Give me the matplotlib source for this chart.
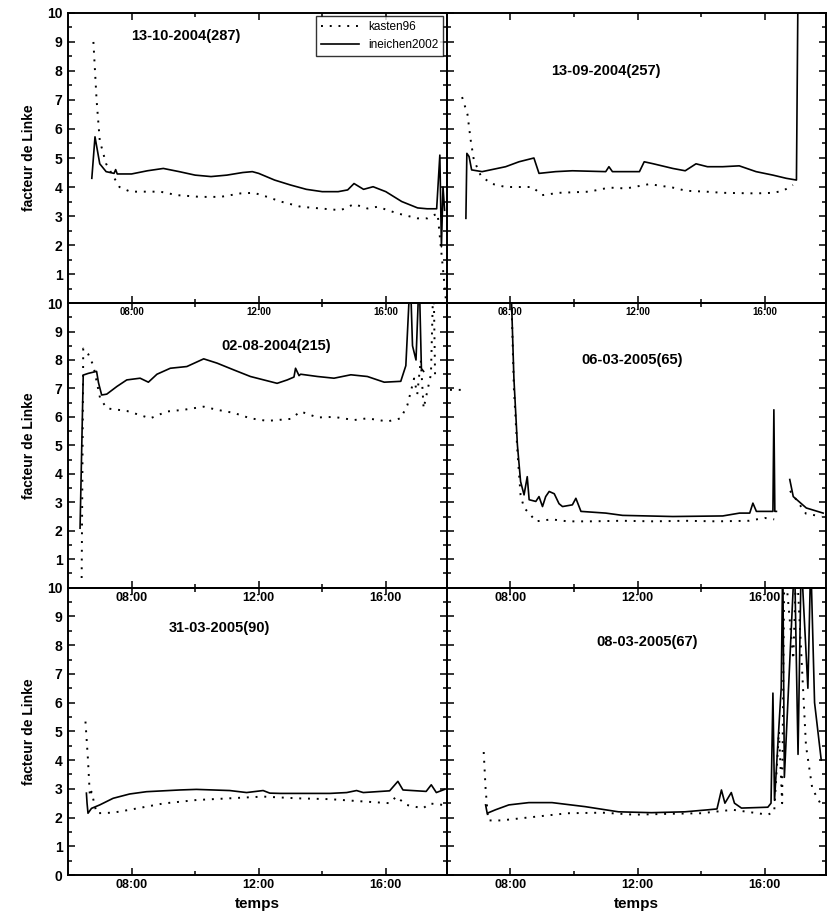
import numpy as np
import matplotlib
matplotlib.use("Agg")
from matplotlib import pyplot as plt
from matplotlib.ticker import MultipleLocator, FixedLocator

nan = float("nan")

# heures (décimales) et facteur de Linke lus sur chaque panneau
titres = ["13-10-2004(287)", "13-09-2004(257)", "02-08-2004(215)",
          "06-03-2005(65)", "31-03-2005(90)", "08-03-2005(67)"]

# 13-10-2004
ine_t1 = [6.75, 6.85, 7.0, 7.2, 7.45, 7.5, 7.55, 8.0, 8.5, 9.0, 9.5, 10.0, 10.5, 11.0, 11.5, 11.8,
          12.0, 12.5, 13.0, 13.5, 14.0, 14.5, 14.8, 15.0, 15.3, 15.6, 16.0, 16.5, 17.0, 17.3, 17.6,
          17.7, 17.75, 17.8, 17.85]
ine_v1 = [4.3, 5.73, 4.8, 4.53, 4.47, 4.6, 4.45, 4.45, 4.56, 4.64, 4.53, 4.41, 4.36, 4.41, 4.5, 4.53,
          4.47, 4.24, 4.07, 3.92, 3.84, 3.84, 3.9, 4.12, 3.92, 4.01, 3.84, 3.5, 3.28, 3.25, 3.25,
          5.1, 1.94, 4.0, 3.2]
kas_t1 = [6.8, 6.9, 7.0, 7.2, 7.62, 7.96, 8.9, 9.43, 10.16, 10.8, 11.43, 11.85, 12.27, 12.69, 13.32,
          13.95, 14.58, 15.0, 15.42, 15.74, 16.37, 17.0, 17.31, 17.63, 17.84, 17.9]
kas_v1 = [9.0, 7.0, 5.6, 4.8, 4.0, 3.84, 3.84, 3.72, 3.66, 3.66, 3.78, 3.8, 3.66, 3.5, 3.32,
          3.26, 3.2, 3.41, 3.26, 3.32, 3.09, 2.92, 2.92, 3.09, 0.7, 0.0]

# 13-09-2004
ine_t2 = [6.6, 6.63, 6.7, 6.78, 7.11, 7.85, 8.27, 8.74, 8.9, 9.42, 9.95, 11.0, 11.1, 11.21, 11.31,
          12.06, 12.21, 12.5, 13.11, 13.5, 13.84, 14.2, 14.68, 15.2, 15.73, 16.26, 16.68, 17.0, 17.05, 17.07]
ine_v2 = [2.92, 5.16, 5.05, 4.59, 4.53, 4.7, 4.87, 5.0, 4.47, 4.53, 4.56, 4.53, 4.7, 4.53, 4.53,
          4.53, 4.87, 4.8, 4.64, 4.56, 4.8, 4.7, 4.7, 4.73, 4.53, 4.41, 4.3, 4.24, 11, 11]
kas_t2 = [6.48, 6.65, 6.75, 6.85, 7.06, 7.38, 7.85, 8.69, 9.0, 9.53, 10.48, 11.11, 11.64, 12.37,
          13.11, 13.53, 14.16, 14.68, 15.73, 16.26, 16.58, 16.89]
kas_v2 = [7.1, 6.5, 5.62, 4.93, 4.41, 4.12, 4.0, 4.0, 3.72, 3.8, 3.84, 3.98, 3.95, 4.1,
          3.98, 3.87, 3.84, 3.8, 3.78, 3.8, 3.87, 4.07]

# 02-08-2004
ine_t3 = [6.38, 6.48, 6.64, 6.9, 6.96, 7.06, 7.22, 7.54, 7.85, 8.27, 8.53, 8.8, 9.22, 9.74, 10.27,
          10.69, 11.22, 11.74, 12.16, 12.58, 12.9, 13.11, 13.16, 13.27, 13.32, 13.85, 14.37, 14.9,
          15.42, 15.95, 16.47, 16.63, 16.77, 16.84, 16.95, 17.05, 17.12, 17.19]
ine_v3 = [2.09, 7.47, 7.53, 7.6, 7.2, 6.77, 6.8, 7.07, 7.3, 7.36, 7.22, 7.5, 7.71, 7.77, 8.04,
          7.89, 7.65, 7.42, 7.3, 7.18, 7.3, 7.4, 7.71, 7.45, 7.5, 7.42, 7.36, 7.48,
          7.42, 7.22, 7.25, 7.8, 11, 8.5, 8.0, 11, 7.7, 7.6]
kas_t3 = [6.43, 6.46, 6.48, 6.64, 6.8, 7.01, 7.22, 7.85, 8.59, 9.11, 9.64, 10.27, 10.69, 11.22,
          11.74, 12.27, 13.0, 13.32, 13.85, 14.37, 15.0, 15.42, 16.05, 16.47, 16.68, 16.89, 16.99,
          17.1, 17.19, 17.42, 17.5, 17.55]
kas_v3 = [0.34, 5.0, 8.4, 8.2, 7.8, 6.66, 6.3, 6.21, 5.95, 6.19, 6.25, 6.36, 6.25, 6.14,
          5.95, 5.86, 5.93, 6.19, 5.98, 6.0, 5.89, 5.95, 5.84, 5.95, 6.42, 7.35, 6.8,
          8.0, 6.3, 7.5, 11, 7.47]

# 06-03-2005
ine_t4 = [8.01, 8.11, 8.22, 8.32, 8.43, 8.53, 8.59, 8.8, 8.9, 9.01, 9.11, 9.22, 9.38, 9.53, 9.64,
          9.95, 10.06, 10.22, 11.0, 11.53, 13.11, 14.68, 15.21, 15.53, 15.63, 15.74, 16.26, 16.29,
          16.32, 16.37, nan, 16.79, 16.9, 17.31, 17.84]
ine_v4 = [11, 7.36, 5.02, 3.73, 3.26, 3.9, 3.09, 3.03, 3.2, 2.85, 3.2, 3.38, 3.3, 2.95, 2.85,
          2.91, 3.14, 2.68, 2.62, 2.54, 2.5, 2.52, 2.62, 2.62, 2.97, 2.68, 2.68, 6.25,
          2.68, 2.68, nan, 3.8, 3.2, 2.8, 2.62]
kas_t4 = [6.1, 6.5, nan, 8.01, 8.11, 8.22, 8.32, 8.43, 8.59, 8.8, 9.3, 9.8, 10.5, 11.5, 12.5, 13.5,
          14.5, 15.5, 16.0, 16.3, nan, 16.8, 17.3, 17.8]
kas_v4 = [6.95, 6.95, nan, 11, 7.0, 4.8, 3.26, 2.8, 2.62, 2.33, 2.4, 2.33, 2.33, 2.35, 2.33, 2.35,
          2.33, 2.35, 2.45, 2.4, nan, 3.4, 2.6, 2.5]

# 31-03-2005
ine_t5 = [6.58, 6.6, 6.63, 6.74, 7.0, 7.42, 7.94, 8.47, 9.52, 10.04, 11.09, 11.62, 12.14, 12.35,
          12.67, 13.19, 14.24, 14.77, 15.08, 15.29, 16.12, 16.38, 16.54, 17.27, 17.43, 17.59, 17.85]
ine_v5 = [2.85, 2.5, 2.15, 2.32, 2.44, 2.67, 2.82, 2.9, 2.96, 2.98, 2.94, 2.87, 2.94, 2.85,
          2.84, 2.84, 2.84, 2.87, 2.94, 2.87, 2.93, 3.26, 2.96, 2.91, 3.14, 2.87, 2.98]
kas_t5 = [6.55, 6.63, 6.69, 6.74, 6.9, 7.42, 7.94, 8.47, 9.0, 10.04, 11.09, 12.14, 13.19, 14.24,
          15.29, 16.12, 16.33, 16.65, 17.17, 17.38, 17.8]
kas_v5 = [5.34, 4.0, 2.73, 2.9, 2.15, 2.17, 2.27, 2.38, 2.49, 2.61, 2.67, 2.73, 2.67, 2.64,
          2.56, 2.5, 2.73, 2.44, 2.32, 2.49, 2.44]

# 08-03-2005
ine_t6 = [7.22, 7.27, 7.53, 7.95, 8.58, 9.31, 10.35, 11.4, 12.44, 13.49, 14.22, 14.5, 14.64, 14.75,
          14.95, 15.05, 15.27, 16.1, 16.2, 16.26, 16.31, 16.52, 16.57, 16.62, 16.94, 17.05, 17.15,
          17.36, 17.45, 17.57, 17.78]
ine_v6 = [2.44, 2.15, 2.27, 2.44, 2.52, 2.52, 2.38, 2.2, 2.17, 2.2, 2.27, 2.3, 2.96, 2.5,
          2.87, 2.5, 2.33, 2.36, 2.5, 6.33, 2.6, 6.5, 11, 3.4, 11, 4.2, 11,
          6.5, 11, 6.0, 4.0]
kas_t6 = [7.16, 7.22, 7.3, 7.7, 8.8, 9.8, 10.9, 11.9, 13.0, 14.0, 15.0, 16.1, 16.3, 16.45, 16.55,
          16.62, 16.9, 17.0, 17.3, 17.5, 17.8]
kas_v6 = [4.28, 3.0, 1.9, 1.9, 2.03, 2.15, 2.17, 2.1, 2.13, 2.15, 2.27, 2.1, 2.2, 5.0, 2.5,
          11, 7.5, 11, 4.5, 3.0, 2.4]

ine_t = [ine_t1, ine_t2, ine_t3, ine_t4, ine_t5, ine_t6]
ine_v = [ine_v1, ine_v2, ine_v3, ine_v4, ine_v5, ine_v6]
kas_t = [kas_t1, kas_t2, kas_t3, kas_t4, kas_t5, kas_t6]
kas_v = [kas_v1, kas_v2, kas_v3, kas_v4, kas_v5, kas_v6]

heures_lab = [8, 12, 16]
heures_lab_txt = ["08:00", "12:00", "16:00"]
y_ticks = list(range(0, 11))

plt.rcParams['font.family'] = ['Liberation Sans', 'DejaVu Sans']

fig = plt.figure(figsize=(8.29, 9.24), dpi=100)

# positions [gauche, bas, largeur, hauteur] des six panneaux collés
lefts = [0.082, 0.539]
rows = [(0.672, 0.314), (0.364, 0.308), (0.053, 0.311)]
titre_pos = [(0.31, 0.92), (0.42, 0.80), (0.55, 0.85), (0.49, 0.80), (0.40, 0.86), (0.53, 0.81)]

for i in range(6):
    r, c = i // 2, i % 2
    ax = fig.add_axes([lefts[c], rows[r][0], 0.457, rows[r][1]])
    ax.set_facecolor('none')
    ax.plot(kas_t[i], kas_v[i], color='black', lw=1.4, linestyle=(0, (1, 3.5)), label='kasten96')
    ax.plot(ine_t[i], ine_v[i], color='black', lw=1.2, label='ineichen2002')
    ax.set_xlim(6, 17.92)
    ax.set_ylim(0, 10)
    ax.xaxis.set_major_locator(FixedLocator(heures_lab))
    ax.xaxis.set_minor_locator(FixedLocator([10, 14]))
    ax.set_xticklabels(heures_lab_txt)
    ax.yaxis.set_major_locator(FixedLocator(y_ticks))
    ax.yaxis.set_minor_locator(MultipleLocator(0.5))
    # le "0" des panneaux du haut est recouvert par le "10" du panneau dessous
    ax.set_yticklabels([str(v) if (v > 0 or r == 2) else "" for v in y_ticks])
    ax.tick_params(which='both', direction='in', top=True, right=True, width=1.1)
    ax.tick_params(which='major', length=5)
    ax.tick_params(which='minor', length=3)
    fs_x = 7 if r == 0 else 9
    ax.tick_params(axis='x', labelsize=fs_x, pad=3)
    for lab in ax.get_xticklabels():
        lab.set_fontweight('bold')
    if c == 0:
        ax.tick_params(axis='y', labelsize=10, pad=4)
        for lab in ax.get_yticklabels():
            lab.set_fontweight('bold')
        ax.set_ylabel("facteur de Linke", fontsize=10, fontweight='bold', labelpad=8)
    else:
        ax.tick_params(axis='y', labelleft=False)
    for s in ax.spines.values():
        s.set_linewidth(1.4)
    tx, ty = titre_pos[i]
    ax.text(tx, ty, titres[i], transform=ax.transAxes, ha='center', va='center',
            fontsize=10.5, fontweight='bold')
    if i == 0:
        ax.legend(loc='upper right', fontsize=8.5, frameon=True, fancybox=False,
                  edgecolor='black', borderaxespad=0.3, handlelength=3.2, borderpad=0.4)
    if r == 2:
        ax.set_xlabel("temps", fontsize=11, fontweight='bold', labelpad=4)

fig.savefig("out.png", dpi=100)
